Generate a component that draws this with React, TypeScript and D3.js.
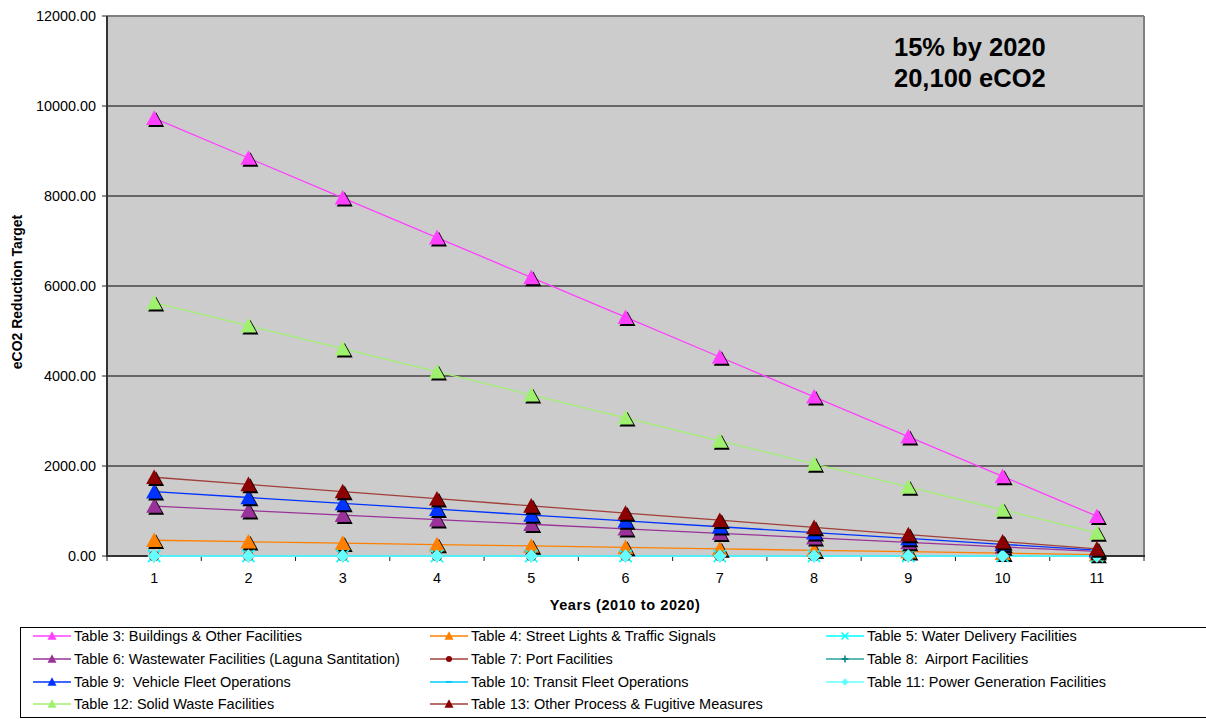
import React from "react";
import * as d3 from "d3";

const years = [1, 2, 3, 4, 5, 6, 7, 8, 9, 10, 11];
const yTicks = [0, 2000, 4000, 6000, 8000, 10000, 12000];

const table3 = [9730, 8845, 7960, 7076, 6191, 5307, 4422, 3538, 2653, 1769, 884];
const table4 = [350, 318, 286, 255, 223, 191, 159, 127, 95, 64, 32];
const table5 = [0, 0, 0, 0, 0, 0, 0, 0, 0, 0, 0];
const table6 = [1110, 1009, 908, 807, 706, 605, 505, 404, 303, 202, 101];
const table7 = [0, 0, 0, 0, 0, 0, 0, 0, 0, 0, 0];
const table8 = [0, 0, 0, 0, 0, 0, 0, 0, 0, 0, 0];
const table9 = [1430, 1300, 1170, 1040, 910, 780, 650, 520, 390, 260, 130];
const table10 = [0, 0, 0, 0, 0, 0, 0, 0, 0, 0, 0];
const table11 = [0, 0, 0, 0, 0, 0, 0, 0, 0, 0, 0];
const table12 = [5630, 5118, 4606, 4095, 3583, 3071, 2559, 2047, 1535, 1024, 512];
const table13 = [1750, 1591, 1432, 1273, 1114, 955, 795, 636, 477, 318, 159];

type Marker = "triangle" | "x" | "circle" | "plus" | "dash" | "diamond";
interface Series { name: string; values: number[]; line: string; fill: string; marker: Marker; }

const series: Series[] = [
  { name: "Table 3: Buildings & Other Facilities", values: table3, line: "#FF40FF", fill: "#FF40FF", marker: "triangle" },
  { name: "Table 4: Street Lights & Traffic Signals", values: table4, line: "#FF8000", fill: "#FF8000", marker: "triangle" },
  { name: "Table 5: Water Delivery Facilities", values: table5, line: "#00FFFF", fill: "#00FFFF", marker: "x" },
  { name: "Table 6: Wastewater Facilities (Laguna Santitation)", values: table6, line: "#993399", fill: "#993399", marker: "triangle" },
  { name: "Table 7: Port Facilities", values: table7, line: "#A0403A", fill: "#8B0000", marker: "circle" },
  { name: "Table 8:  Airport Facilities", values: table8, line: "#2AA0A0", fill: "#008080", marker: "plus" },
  { name: "Table 9:  Vehicle Fleet Operations", values: table9, line: "#0033FF", fill: "#0033FF", marker: "triangle" },
  { name: "Table 10: Transit Fleet Operations", values: table10, line: "#00CCFF", fill: "#00CCFF", marker: "dash" },
  { name: "Table 11: Power Generation Facilities", values: table11, line: "#66FFFF", fill: "#66FFFF", marker: "diamond" },
  { name: "Table 12: Solid Waste Facilities", values: table12, line: "#A0F070", fill: "#A0F070", marker: "triangle" },
  { name: "Table 13: Other Process & Fugitive Measures", values: table13, line: "#A0403A", fill: "#8B0000", marker: "triangle" },
];

const W = 1206, H = 719;
const left = 107, right = 1144, top = 16, bottom = 556;
const font = "Liberation Sans, Arial, sans-serif";

function MarkerShape({ m, x, y, s, fill, shadow }: { m: Marker; x: number; y: number; s: number; fill: string; shadow: boolean }) {
  if (m === "triangle") {
    const h = s * 0.85;
    const pts = (dx: number, dy: number) =>
      `${x + dx},${y - h / 2 - 1 + dy} ${x - s / 2 + dx},${y + h / 2 + dy} ${x + s / 2 + dx},${y + h / 2 + dy}`;
    return (
      <g>
        {shadow && <polygon points={pts(2, 2)} fill="#000" />}
        <polygon points={pts(0, 0)} fill={fill} />
      </g>
    );
  }
  if (m === "circle") return <circle cx={x} cy={y} r={s / 3} fill={fill} />;
  if (m === "diamond") {
    const r = s / 2.4;
    return <polygon points={`${x},${y - r} ${x + r},${y} ${x},${y + r} ${x - r},${y}`} fill={fill} />;
  }
  if (m === "x") {
    const r = s / 2.6;
    return <path d={`M${x - r},${y - r}L${x + r},${y + r}M${x - r},${y + r}L${x + r},${y - r}`} stroke={fill} strokeWidth={1.5} />;
  }
  if (m === "plus") {
    const r = s / 2.6;
    return <path d={`M${x - r},${y}L${x + r},${y}M${x},${y - r}L${x},${y + r}`} stroke={fill} strokeWidth={1.5} />;
  }
  const r = s / 3;
  return <path d={`M${x - r},${y}L${x + r},${y}`} stroke={fill} strokeWidth={2} />;
}

export default function App() {
  const x = d3.scaleBand<number>().domain(years).range([left, right]).padding(0);
  const y = d3.scaleLinear().domain([0, 12000]).range([bottom, top]);
  const cx = (d: number) => (x(d) as number) + x.bandwidth() / 2;
  const line = d3.line<number>().x((_, i) => cx(years[i])).y((v) => y(v));

  const legendCols = [33, 430, 826];
  const legendRows = [636, 659, 682, 704];

  return (
    <div style={{ position: "absolute", left: 0, top: 0 }}>
      <svg width={W} height={H} style={{ display: "block" }} fontFamily={font}>
        <rect x={0} y={0} width={W} height={H} fill="#fff" />
        <rect x={left} y={top} width={right - left} height={bottom - top} fill="#CCCCCC" />
        {yTicks.map((t) => (
          <g key={t}>
            {t > 0 && t < 12000 && <line x1={left} x2={right} y1={y(t)} y2={y(t)} stroke="#000" strokeWidth={1} />}
            <line x1={left - 5} x2={left} y1={y(t)} y2={y(t)} stroke="#222" />
            <text x={96} y={y(t)} dy="0.35em" textAnchor="end" fontSize={14.4} fill="#000">{t.toFixed(2)}</text>
          </g>
        ))}
        <line x1={left} x2={right} y1={top} y2={top} stroke="#808080" strokeWidth={2} />
        <line x1={right} x2={right} y1={top} y2={bottom} stroke="#808080" strokeWidth={2} />
        <line x1={left} x2={left} y1={top} y2={bottom + 1} stroke="#333" strokeWidth={2} />
        <line x1={left} x2={right + 1} y1={bottom} y2={bottom} stroke="#333" strokeWidth={2} />
        {years.map((d) => (
          <line key={"t" + d} x1={x(d) as number} x2={x(d) as number} y1={bottom} y2={bottom + 5} stroke="#222" />
        ))}
        <line x1={right} x2={right} y1={bottom} y2={bottom + 5} stroke="#222" />
        {years.map((d) => (
          <text key={"l" + d} x={cx(d)} y={578} dy="0.35em" textAnchor="middle" fontSize={14.4} fill="#000">{d}</text>
        ))}
        <text x={625} y={605} dy="0.35em" textAnchor="middle" fontSize={14.5} fontWeight="bold" letterSpacing={0.6}>Years (2010 to 2020)</text>
        <text transform={`translate(17,${(top + bottom) / 2 + 6}) rotate(-90)`} dy="0.35em" textAnchor="middle" fontSize={14} fontWeight="bold">eCO2 Reduction Target</text>

        {series.map((s) => (
          <path key={"p" + s.name} d={line(s.values) || ""} fill="none" stroke={s.line} strokeWidth={1.3} />
        ))}
        {series.map((s) => (
          <g key={"m" + s.name}>
            {s.values.map((v, i) => (
              <MarkerShape key={i} m={s.marker} x={cx(years[i])} y={y(v)} s={16} fill={s.fill} shadow={true} />
            ))}
          </g>
        ))}

        <text x={894} y={56} fontSize={25.5} fontWeight="bold">15% by 2020</text>
        <text x={894} y={87} fontSize={25.5} fontWeight="bold">20,100 eCO2</text>

        <rect x={20.5} y={627.5} width={W} height={90} fill="#fff" stroke="#000" strokeWidth={1} />
        {series.map((s, i) => {
          const col = i % 3, row = Math.floor(i / 3);
          const lx = legendCols[col], ly = legendRows[row];
          return (
            <g key={"lg" + s.name}>
              <line x1={lx} x2={lx + 38} y1={ly} y2={ly} stroke={s.line} strokeWidth={1.5} />
              <MarkerShape m={s.marker} x={lx + 19} y={ly} s={9} fill={s.fill} shadow={false} />
              <text x={lx + 41} y={ly} dy="0.35em" fontSize={14.5} fill="#000" style={{ whiteSpace: "pre" }}>{s.name}</text>
            </g>
          );
        })}
      </svg>
    </div>
  );
}
